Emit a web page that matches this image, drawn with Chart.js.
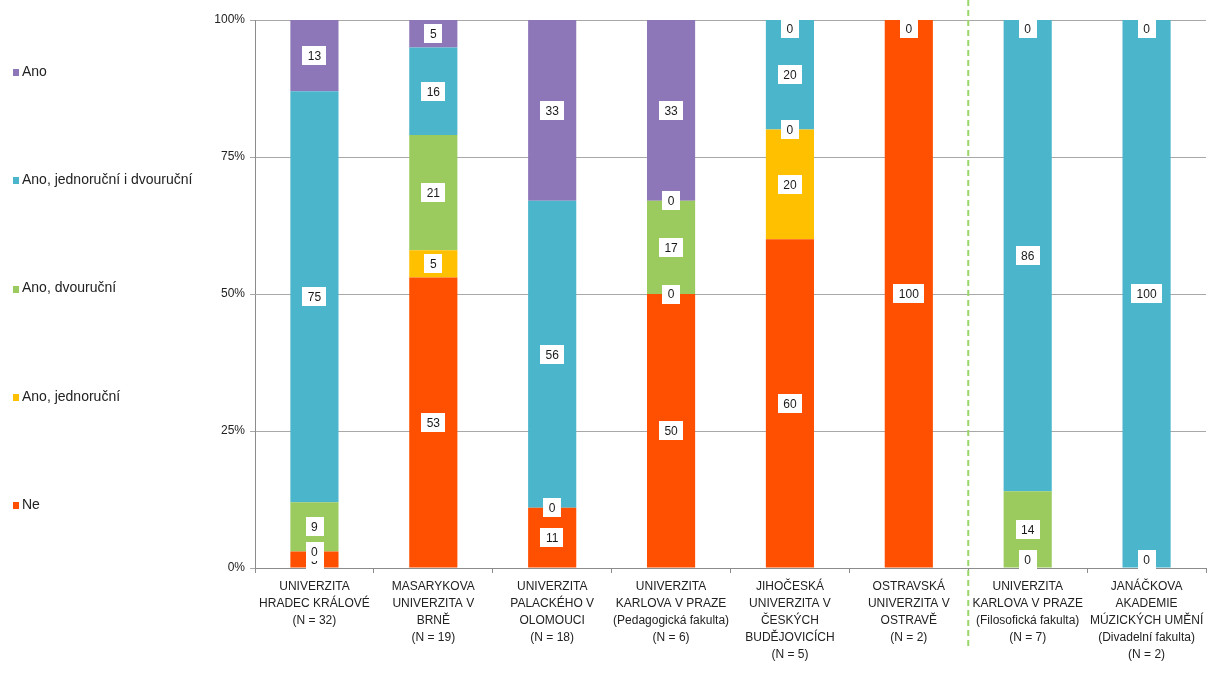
<!DOCTYPE html>
<html>
<head>
<meta charset="utf-8">
<script src="https://cdn.jsdelivr.net/npm/chart.js@4.4.1/dist/chart.umd.min.js"></script>
<style>
  html, body { margin: 0; padding: 0; background: #ffffff; }
  #wrap { width: 1213px; height: 673px; position: relative; }
</style>
</head>
<body>
<div id="wrap"><canvas id="c" width="1213" height="673"></canvas></div>
<script>
const categories = [
  ["UNIVERZITA", "HRADEC KRÁLOVÉ", "(N = 32)"],
  ["MASARYKOVA", "UNIVERZITA V", "BRNĚ", "(N = 19)"],
  ["UNIVERZITA", "PALACKÉHO V", "OLOMOUCI", "(N = 18)"],
  ["UNIVERZITA", "KARLOVA V PRAZE", "(Pedagogická fakulta)", "(N = 6)"],
  ["JIHOČESKÁ", "UNIVERZITA V", "ČESKÝCH", "BUDĚJOVICÍCH", "(N = 5)"],
  ["OSTRAVSKÁ", "UNIVERZITA V", "OSTRAVĚ", "(N = 2)"],
  ["UNIVERZITA", "KARLOVA V PRAZE", "(Filosofická fakulta)", "(N = 7)"],
  ["JANÁČKOVA", "AKADEMIE", "MÚZICKÝCH UMĚNÍ", "(Divadelní fakulta)", "(N = 2)"]
];
const seriesNames = ["Ne", "Ano, jednoruční", "Ano, dvouruční", "Ano, jednoruční i dvouruční", "Ano"];
const ne          = [3, 53, 11, 50, 60, 100, 0, 0];
const jednorucni  = [0, 5, 0, 0, 20, 0, 0, 0];
const dvourucni   = [9, 21, 0, 17, 0, 0, 14, 0];
const obojí       = [75, 16, 56, 0, 20, 0, 86, 100];
const ano         = [13, 5, 33, 33, 0, 0, 0, 0];
const yTicks = [0, 25, 50, 75, 100];
const separatorAfterIndex = 5;

const colors = ["#ff4f00", "#ffc000", "#9bcb5f", "#4bb5cc", "#8e77b8"];
const FONT = "'Liberation Sans', Arial, sans-serif";

const seriesData = [ne, jednorucni, dvourucni, obojí, ano];

const labelPlugin = {
  id: 'segLabels',
  afterDatasetsDraw(chart) {
    const ctx = chart.ctx;
    const area = chart.chartArea;
    ctx.save();
    ctx.font = "12px " + FONT;
    ctx.textAlign = 'center';
    ctx.textBaseline = 'middle';
    chart.data.datasets.forEach((ds, di) => {
      const meta = chart.getDatasetMeta(di);
      meta.data.forEach((el, i) => {
        const v = ds.data[i];
        const txt = String(Math.round(v));
        let y = (el.y + el.base) / 2;
        const h = 19;
        y = Math.max(area.top + h / 2 - 1, Math.min(area.bottom - h / 2 + 1, y));
        const w = ctx.measureText(txt).width + 11;
        ctx.fillStyle = '#ffffff';
        ctx.fillRect(Math.round(el.x - w / 2), Math.round(y - h / 2), Math.round(w), h);
        ctx.fillStyle = '#1a1a1a';
        ctx.fillText(txt, el.x, y + 1);
      });
    });
    ctx.restore();
  }
};

const separatorPlugin = {
  id: 'separator',
  afterDraw(chart) {
    const xs = chart.scales.x;
    const x = (xs.getPixelForValue(separatorAfterIndex) + xs.getPixelForValue(separatorAfterIndex + 1)) / 2;
    const ctx = chart.ctx;
    ctx.save();
    ctx.strokeStyle = '#9bd66a';
    ctx.lineWidth = 2;
    ctx.setLineDash([6, 4]);
    ctx.beginPath();
    ctx.moveTo(x, 0);
    ctx.lineTo(x, 648);
    ctx.stroke();
    ctx.restore();
  }
};

const legendPlugin = {
  id: 'sideLegend',
  afterDraw(chart) {
    const ctx = chart.ctx;
    ctx.save();
    ctx.font = "14px " + FONT;
    ctx.textBaseline = 'middle';
    ctx.textAlign = 'left';
    const n = chart.data.datasets.length;
    for (let k = 0; k < n; k++) {
      const di = n - 1 - k;
      const ds = chart.data.datasets[di];
      const y = 72 + k * 108.3;
      ctx.fillStyle = ds.backgroundColor;
      ctx.fillRect(13, Math.round(y - 3), 6, 7);
      ctx.fillStyle = '#222222';
      ctx.fillText(ds.label, 22, y);
    }
    ctx.restore();
  }
};

new Chart(document.getElementById('c'), {
  type: 'bar',
  data: {
    labels: categories,
    datasets: seriesData.map((d, i) => ({
      label: seriesNames[i],
      data: d,
      backgroundColor: colors[i],
      borderWidth: 0,
      categoryPercentage: 1,
      barPercentage: 0.405
    }))
  },
  options: {
    responsive: false,
    animation: false,
    devicePixelRatio: 1,
    layout: { padding: { left: 195, right: 7, top: 20, bottom: 0 } },
    plugins: {
      legend: { display: false },
      tooltip: { enabled: false }
    },
    scales: {
      x: {
        stacked: true,
        grid: { display: true, drawOnChartArea: false, drawTicks: true, tickLength: 5, color: '#8c8c8c', offset: true },
        border: { display: true, color: '#8c8c8c', width: 1 },
        ticks: {
          color: '#222222',
          font: { family: FONT, size: 12, lineHeight: 1.42 },
          padding: 5,
          maxRotation: 0,
          autoSkip: false
        },
        afterFit(scale) { scale.height = 105; }
      },
      y: {
        stacked: true,
        min: 0,
        max: 100,
        afterBuildTicks(scale) { scale.ticks = yTicks.map(v => ({ value: v })); },
        grid: { color: '#a8a8a8', tickLength: 5, drawTicks: true },
        border: { display: true, color: '#8c8c8c', width: 1 },
        ticks: {
          color: '#222222',
          font: { family: FONT, size: 12 },
          padding: 5,
          callback: v => v + '%'
        },
        afterFit(scale) { scale.width = 60; }
      }
    }
  },
  plugins: [labelPlugin, separatorPlugin, legendPlugin]
});
</script>
</body>
</html>
